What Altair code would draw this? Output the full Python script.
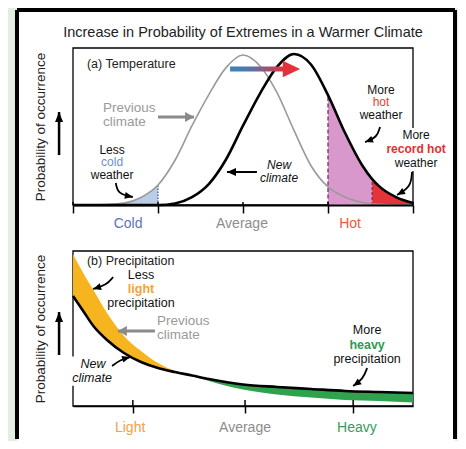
import math
import altair as alt
import pandas as pd

FONT = "Liberation Sans"

# ---------------- Panel (a): temperature ----------------
TEMP_X = [0, 5, 10, 15, 20, 25, 30, 35, 40, 45, 50, 55, 60, 65, 70, 75, 80, 85, 90, 95, 100]
PREV_TEMP = [0.0, 0.0, 0.3, 1.2, 4.8, 12.7, 28.5, 50.5, 70.5, 87.5, 95.5, 88.5, 71.5, 47.5,
             25.0, 11.5, 5.0, 1.8, 0.4, 0.0, 0.0]
NEW_TEMP_X = [0, 5, 10, 15, 20, 25, 30, 35, 40, 45, 50, 55, 60, 65, 70, 75, 80, 85, 88, 90, 95, 100]
NEW_TEMP = [0.0, 0.0, 0.0, 0.0, 0.0, 0.0, 1.0, 5.0, 13.5, 29.0, 50.5, 71.0, 88.0, 96.2,
            89.5, 70.0, 46.0, 25.5, 16.5, 12.0, 5.0, 1.3]
COLD_T, HOT_T, RECORD_T = 25, 75, 88
TEMP_TICKS = [0, 25, 50, 75, 100]
TEMP_CATS = ["Cold", "Average", "Hot"]
TEMP_CAT_X = [16.2, 49.7, 81.5]
TEMP_CAT_COLORS = ["#5b74bd", "#8c8c8c", "#ec5a43"]

# ---------------- Panel (b): precipitation ----------------
PRECIP_X = [0, 3, 6, 10, 15, 20, 25, 30, 35, 40, 50, 60, 70, 80, 90, 100]
PREV_PRECIP = [98.1, 85.8, 74.8, 60.0, 45.2, 35.5, 27.7, 22.6, 19.4, 16.1, 10.6, 7.4, 5.5, 3.9, 3.2, 2.3]
NEW_PRECIP = [71.0, 61.3, 51.6, 42.6, 34.2, 28.4, 24.5, 21.9, 19.7, 17.4, 13.9, 12.3, 11.0, 9.7, 9.0, 8.4]
PRECIP_TICKS = [17.6, 50.6, 82.4]
PRECIP_CATS = ["Light", "Average", "Heavy"]
PRECIP_CAT_X = [16.8, 50.6, 83.5]
PRECIP_CAT_COLORS = ["#f4a043", "#8c8c8c", "#3a9a5a"]

TITLE = "Increase in Probability of Extremes in a Warmer Climate"
YTITLE = "Probability of occurrence"

# annotation arrows (data units of each panel)
ARROW_COLD = [(12.6, 14.0), (13.2, 7.0), (17.6, 5.1)]
ARROW_PREV_A = [(25.0, 56.1), (35.6, 56.1)]
ARROW_NEW_A = [(54.1, 21.0), (45.3, 21.0)]
ARROW_HOT = [(90.3, 49.7), (89.4, 43.0), (85.9, 40.1)]
ARROW_RECORD = [(99.7, 21.0), (99.4, 11.5), (95.3, 6.4)]
ARROW_UP_A = [(-4.1, 31.8), (-4.1, 59.2)]
SHIFT_X = [46.2, 62.1]
SHIFT_Y = [85.0, 88.2]
SHIFT_TIP = (66.8, 86.6)

ARROW_LESS_LIGHT = [(11.8, 83.2), (9.9, 78.1), (5.9, 75.5)]
ARROW_PREV_B = [(24.1, 48.4), (13.2, 48.4)]
ARROW_NEW_B = [(11.5, 25.8), (13.8, 29.7), (16.8, 31.6)]
ARROW_HEAVY = [(86.5, 24.5), (85.3, 17.4), (82.4, 12.9)]
ARROW_UP_B = [(-4.1, 32.9), (-4.1, 60.6)]

W, HA, HB = 340, 157, 155
KX, KYA, KYB = W / 100, HA / 100, HB / 100

GREEN_BG = "#e4eee0"
GRAY = "#9a9a9a"
FS = 12

XSCALE = alt.Scale(domain=[0, 100], nice=False, zero=False)
YSCALE = alt.Scale(domain=[0, 100], nice=False, zero=False)

ONE = pd.DataFrame({"k": [0]})


def make_axes(ticks, tick_size, domain_w):
    ax = alt.Axis(values=ticks, labels=False, title=None, tickSize=tick_size, tickWidth=1.5,
                  tickColor="black", domainColor="black", domainWidth=domain_w, grid=False, zindex=1)
    ay = alt.Axis(title=YTITLE, labels=False, ticks=False, domain=False, grid=False,
                  titlePadding=26, titleFont=FONT, titleFontSize=13.5, titleFontWeight="normal",
                  titleColor="#222222", zindex=1)
    return ax, ay


class Enc:
    def __init__(self, ax, ay):
        self.ax, self.ay = ax, ay

    def x(self, f="x"):
        return alt.X(f"{f}:Q", scale=XSCALE, axis=self.ax)

    def y(self, f="y"):
        return alt.Y(f"{f}:Q", scale=YSCALE, axis=self.ay)


def arrow_layers(E, pts, ky, color, width, head_len, head_w, curve="basis"):
    line_df = pd.DataFrame({"x": [p[0] for p in pts], "y": [p[1] for p in pts],
                            "o": list(range(len(pts)))})
    (x0, y0), (x1, y1) = pts[-2], pts[-1]
    dx = (x1 - x0) * KX
    dys = -(y1 - y0) * ky
    ang = math.degrees(math.atan2(dx, -dys)) % 360
    half = (head_w / 2) / (head_len / 2)
    path = f"M 0 0 L {half:.3f} 2 L -{half:.3f} 2 Z"
    head_df = pd.DataFrame({"x": [x1], "y": [y1], "a": [ang]})
    line = alt.Chart(line_df).mark_line(color=color, strokeWidth=width, interpolate=curve).encode(
        x=E.x(), y=E.y(), order="o:Q")
    head = alt.Chart(head_df).mark_point(shape=path, filled=True, fill=color, strokeWidth=0,
                                         opacity=1, size=head_len ** 2).encode(
        x=E.x(), y=E.y(), angle=alt.Angle("a:Q", scale=None))
    return [line, head]


def text_layer(E, rows, align="center", weight="normal", style="normal"):
    df = pd.DataFrame(rows, columns=["text", "x", "y", "color", "size"])
    return alt.Chart(df).mark_text(align=align, baseline="middle", font=FONT,
                                   fontWeight=weight, fontStyle=style).encode(
        x=E.x(), y=E.y(), text="text:N", color=alt.Color("color:N", scale=None),
        size=alt.Size("size:Q", scale=None))


def box_layer(E):
    df = pd.DataFrame({"x": [0], "x1": [100], "y": [0], "y1": [100]})
    return alt.Chart(df).mark_rect(fillOpacity=0, stroke="black", strokeWidth=1.3).encode(
        x=E.x(), x2="x1:Q", y=E.y(), y2="y1:Q")


def inner_ticks(E, ticks, up):
    df = pd.DataFrame({"x": ticks, "y": [0] * len(ticks), "y1": [up] * len(ticks)})
    return alt.Chart(df).mark_rule(color="black", strokeWidth=1.5).encode(
        x=E.x(), y=E.y(), y2="y1:Q")


def halo(E, x0, x1, y0, y1):
    df = pd.DataFrame({"x": [x0], "x1": [x1], "y": [y0], "y1": [y1]})
    return alt.Chart(df).mark_rect(fill="white", strokeWidth=0).encode(
        x=E.x(), x2="x1:Q", y=E.y(), y2="y1:Q")


# ================= panel (a) =================
axA, ayA = make_axes(TEMP_TICKS, 8, 2)
EA = Enc(axA, ayA)

prev_a = pd.DataFrame({"x": TEMP_X, "y": PREV_TEMP})
new_a = pd.DataFrame({"x": NEW_TEMP_X, "y": NEW_TEMP})
prev_lookup = dict(zip(TEMP_X, PREV_TEMP))
new_lookup = dict(zip(NEW_TEMP_X, NEW_TEMP))
cold_df = prev_a[(prev_a.x >= 10) & (prev_a.x <= COLD_T)]
hot_df = new_a[(new_a.x >= HOT_T) & (new_a.x <= RECORD_T)]
rec_df = new_a[new_a.x >= RECORD_T]

layers_a = []
# page background, white sheet and frame (decoration)
layers_a.append(alt.Chart(ONE).mark_rect(fill=GREEN_BG, strokeWidth=0).encode(
    x=alt.value(-65), x2=alt.value(385), y=alt.value(-40), y2=alt.value(393)))
layers_a.append(alt.Chart(ONE).mark_rect(fill="white", strokeWidth=0).encode(
    x=alt.value(-56), x2=alt.value(382), y=alt.value(-38), y2=alt.value(393)))
layers_a.append(alt.Chart(ONE).mark_rule(color="black", strokeWidth=4).encode(
    x=alt.value(-56), y=alt.value(-38), y2=alt.value(391)))
layers_a.append(alt.Chart(ONE).mark_rule(color="black", strokeWidth=4).encode(
    x=alt.value(382), y=alt.value(-38), y2=alt.value(391)))
layers_a.append(alt.Chart(ONE).mark_rule(color="black", strokeWidth=4).encode(
    x=alt.value(-56), x2=alt.value(382), y=alt.value(-38)))

layers_a.append(box_layer(EA))
layers_a.append(alt.Chart(cold_df).mark_area(color="#b9cde4", interpolate="monotone").encode(
    x=EA.x(), y=EA.y()))
layers_a.append(alt.Chart(hot_df).mark_area(color="#d998cc", interpolate="monotone").encode(
    x=EA.x(), y=EA.y()))
layers_a.append(alt.Chart(rec_df).mark_area(color="#e5333a", interpolate="monotone").encode(
    x=EA.x(), y=EA.y()))

thr_cold = pd.DataFrame({"x": [COLD_T], "y": [0], "y1": [prev_lookup[COLD_T]]})
thr_hot = pd.DataFrame({"x": [HOT_T], "y": [0], "y1": [new_lookup[HOT_T]]})
thr_rec = pd.DataFrame({"x": [RECORD_T], "y": [0], "y1": [new_lookup[RECORD_T]]})
layers_a.append(alt.Chart(thr_cold).mark_rule(color="#3f5f9c", strokeWidth=1.3, strokeDash=[1.5, 1.5]).encode(
    x=EA.x(), y=EA.y(), y2="y1:Q"))
layers_a.append(alt.Chart(thr_hot).mark_rule(color="#7a2a6c", strokeWidth=1.3, strokeDash=[4, 2.5]).encode(
    x=EA.x(), y=EA.y(), y2="y1:Q"))
layers_a.append(alt.Chart(thr_rec).mark_rule(color="#8c2440", strokeWidth=1.3, strokeDash=[3, 2]).encode(
    x=EA.x(), y=EA.y(), y2="y1:Q"))

layers_a.append(alt.Chart(prev_a).mark_line(color=GRAY, strokeWidth=1.6, interpolate="monotone").encode(
    x=EA.x(), y=EA.y()))
layers_a.append(alt.Chart(new_a).mark_line(color="black", strokeWidth=2.6, interpolate="monotone").encode(
    x=EA.x(), y=EA.y()))

# warming shift arrow (blue -> red)
shift_df = pd.DataFrame({"x": [SHIFT_X[0]], "x1": [SHIFT_X[1]], "y": [SHIFT_Y[0]], "y1": [SHIFT_Y[1]]})
layers_a.append(alt.Chart(shift_df).mark_rect(
    color=alt.Gradient(gradient="linear",
                       stops=[alt.GradientStop(color="#3a82b6", offset=0),
                              alt.GradientStop(color="#4f78ad", offset=0.35),
                              alt.GradientStop(color="#e4323a", offset=1)],
                       x1=0, x2=1, y1=0, y2=0), strokeWidth=0).encode(
    x=EA.x(), x2="x1:Q", y=EA.y(), y2="y1:Q"))
tip_df = pd.DataFrame({"x": [SHIFT_TIP[0]], "y": [SHIFT_TIP[1]]})
layers_a.append(alt.Chart(tip_df).mark_point(shape="M 0 0 L -2 -0.95 L -2 0.95 Z", filled=True,
                                             fill="#e4323a", strokeWidth=0, opacity=1, size=300).encode(
    x=EA.x(), y=EA.y()))

layers_a.append(halo(EA, 93.2, 108.5, 21.7, 49.0))

layers_a += arrow_layers(EA, ARROW_COLD, KYA, "black", 1.8, 8, 7)
layers_a += arrow_layers(EA, ARROW_PREV_A, KYA, "#8a8a8a", 3, 9, 10, "linear")
layers_a += arrow_layers(EA, ARROW_NEW_A, KYA, "black", 2, 9, 8, "linear")
layers_a += arrow_layers(EA, ARROW_HOT, KYA, "black", 1.8, 8, 7)
layers_a += arrow_layers(EA, ARROW_RECORD, KYA, "black", 1.8, 8, 7)
layers_a += arrow_layers(EA, ARROW_UP_A, KYA, "black", 2.5, 10, 8, "linear")

rows_center_a = [
    (TITLE, 50, 109.6, "#222222", 14.5),
    ("Less", 11.5, 35.3, "#111111", FS),
    ("cold", 11.5, 27.1, "#6a8fc6", FS),
    ("weather", 11.5, 18.9, "#111111", FS),
    ("More", 90.6, 73.5, "#111111", FS),
    ("hot", 90.6, 65.3, "#e8402f", FS),
    ("weather", 90.6, 57.1, "#111111", FS),
    ("More", 100.9, 44.3, "#111111", FS),
    ("weather", 100.9, 26.8, "#111111", FS),
] + [(c, x, -12.1, col, 14) for c, x, col in zip(TEMP_CATS, TEMP_CAT_X, TEMP_CAT_COLORS)]
layers_a.append(text_layer(EA, rows_center_a))
layers_a.append(text_layer(EA, [("record hot", 100.9, 35.6, "#e23030", FS)], weight="bold"))
layers_a.append(text_layer(EA, [("New", 60.6, 25.6, "#111111", FS),
                                ("climate", 60.6, 17.0, "#111111", FS)], style="italic"))
layers_a.append(text_layer(EA, [("(a) Temperature", 4.1, 89.8, "#222222", 12.5),
                                ("Previous", 8.8, 61.8, GRAY, 13.5),
                                ("climate", 8.8, 52.9, GRAY, 13.5)], align="left"))
layers_a.append(inner_ticks(EA, TEMP_TICKS, 3 / KYA))

panel_a = alt.layer(*layers_a).properties(width=W, height=HA)

# ================= panel (b) =================
axB, ayB = make_axes(PRECIP_TICKS, 7, 1.3)
EB = Enc(axB, ayB)

pb = pd.DataFrame({"x": PRECIP_X, "prev": PREV_PRECIP, "new": NEW_PRECIP})
light_df = pb[pb.x <= 35]
heavy_df = pb[pb.x >= 30]

layers_b = []
layers_b.append(box_layer(EB))
layers_b.append(alt.Chart(light_df).mark_area(color="#f6b51e", interpolate="monotone").encode(
    x=EB.x(), y=EB.y("prev"), y2="new:Q"))
layers_b.append(alt.Chart(heavy_df).mark_area(color="#2ea24c", interpolate="monotone").encode(
    x=EB.x(), y=EB.y("new"), y2="prev:Q"))
layers_b.append(alt.Chart(pb).mark_line(color="black", strokeWidth=2.6, interpolate="monotone").encode(
    x=EB.x(), y=EB.y("new")))
layers_b.append(halo(EB, -1.2, 12.6, 13.0, 32.0))

layers_b += arrow_layers(EB, ARROW_LESS_LIGHT, KYB, "black", 1.8, 8, 7)
layers_b += arrow_layers(EB, ARROW_PREV_B, KYB, "#8a8a8a", 3, 9, 10, "linear")
layers_b += arrow_layers(EB, ARROW_NEW_B, KYB, "black", 1.8, 8, 7)
layers_b += arrow_layers(EB, ARROW_HEAVY, KYB, "black", 1.8, 8, 7)
layers_b += arrow_layers(EB, ARROW_UP_B, KYB, "black", 2.5, 10, 8, "linear")

rows_center_b = [
    ("Less", 20.0, 84.8, "#111111", 12.5),
    ("precipitation", 20.0, 66.3, "#111111", 12.5),
    ("More", 86.5, 48.9, "#111111", 12.5),
    ("precipitation", 86.5, 30.5, "#111111", 12.5),
] + [(c, x, -14.2, col, 14) for c, x, col in zip(PRECIP_CATS, PRECIP_CAT_X, PRECIP_CAT_COLORS)]
layers_b.append(text_layer(EB, rows_center_b))
layers_b.append(text_layer(EB, [("light", 20.0, 75.5, "#f4a340", 12.5),
                                ("heavy", 86.5, 39.6, "#2f9a50", 12.5)], weight="bold"))
layers_b.append(text_layer(EB, [("New", 5.9, 27.0, "#111111", 12.5),
                                ("climate", 5.6, 17.8, "#111111", 12.5)], style="italic"))
layers_b.append(text_layer(EB, [("(b) Precipitation", 4.1, 93.5, "#222222", 12.5),
                                ("Previous", 24.7, 54.8, GRAY, 13.5),
                                ("climate", 24.7, 45.8, GRAY, 13.5)], align="left"))
layers_b.append(inner_ticks(EB, PRECIP_TICKS, 6 / KYB))

panel_b = alt.layer(*layers_b).properties(width=W, height=HB)

chart = alt.vconcat(panel_a, panel_b, spacing=46, bounds="flush").properties(
    padding=0, background="white"
).configure(font=FONT, view=alt.ViewConfig(stroke=None))

chart.save("out.html", embed_options={"renderer": "svg", "actions": False})
